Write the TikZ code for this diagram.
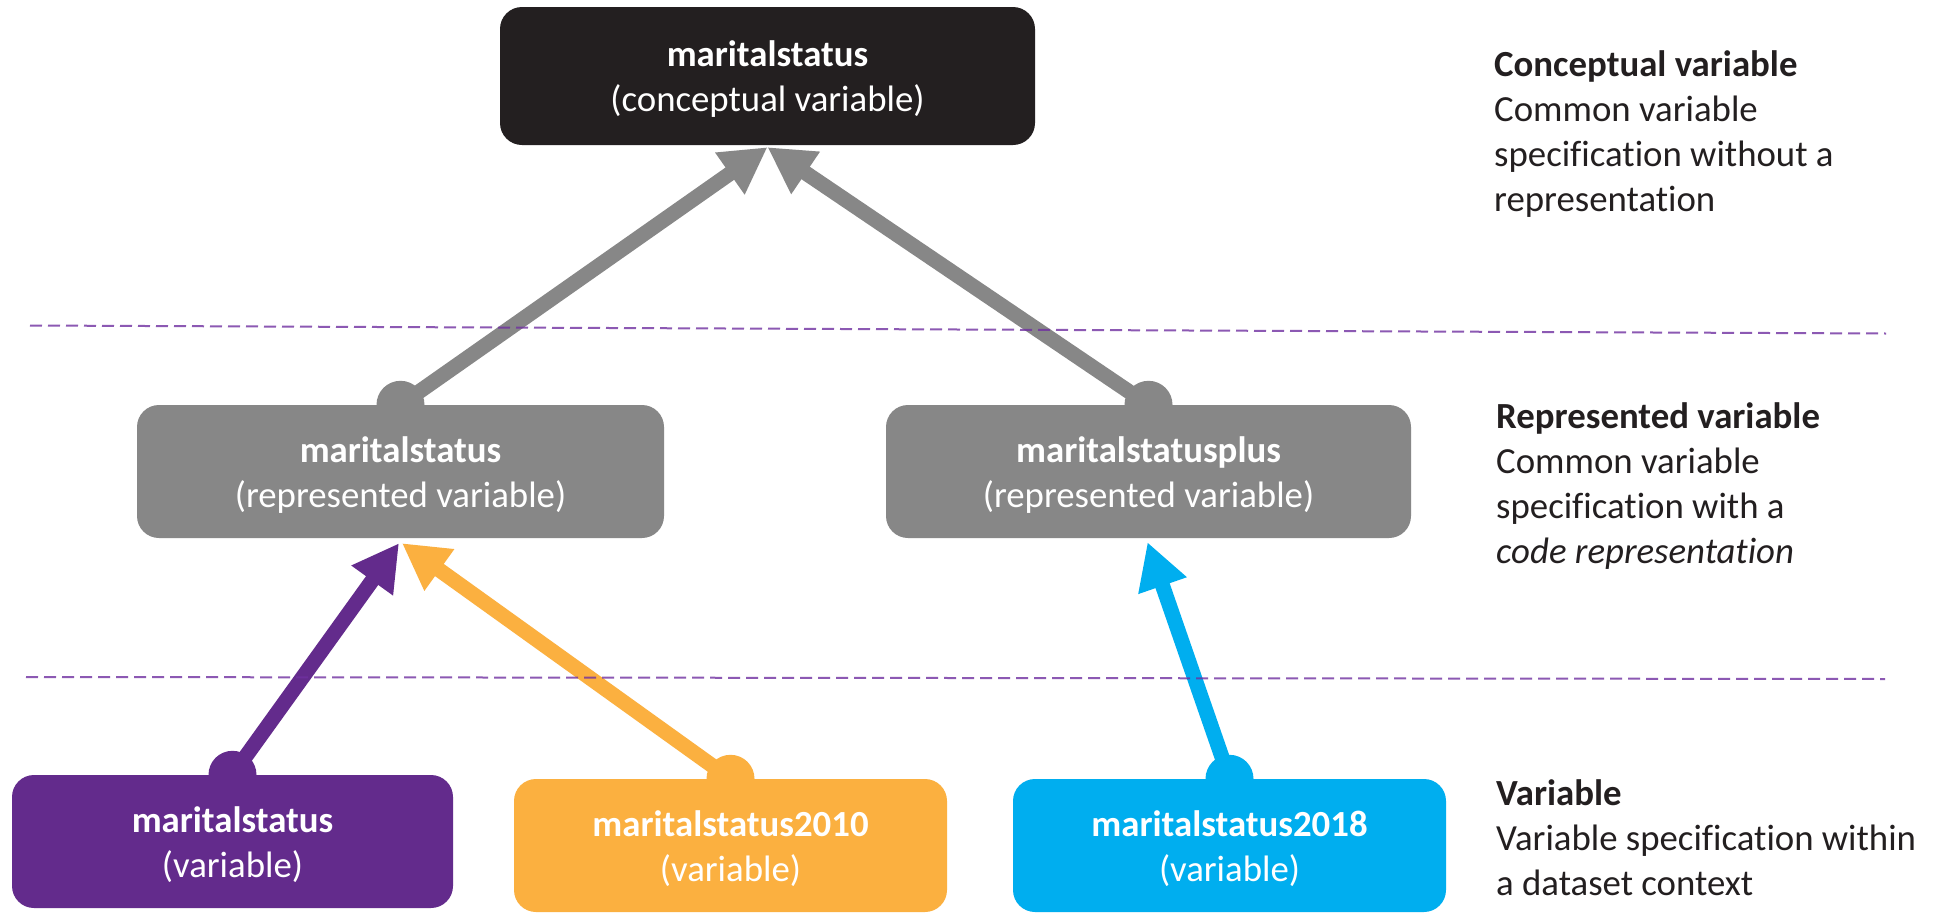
\documentclass[tikz,border=0pt]{standalone}
\usepackage{fontspec}
\setmainfont{Carlito}[Ligatures=CommonOff]
\usetikzlibrary{arrows.meta}
\definecolor{cblack}{HTML}{231F20}
\definecolor{cgray}{HTML}{878787}
\definecolor{cpurple}{HTML}{632B8C}
\definecolor{corange}{HTML}{FBB040}
\definecolor{cblue}{HTML}{00AEEF}
\definecolor{cdash}{HTML}{7030A0}
\newcommand\dfont{\fontsize{36.8pt}{45pt}\selectfont}
\newcommand\tstrut{\rule{0pt}{32pt}}
\begin{document}
\begin{tikzpicture}[x=1pt,y=-1pt,
  box/.style={rounded corners=22pt, inner sep=0pt, text=white, align=center,
              font=\dfont, minimum height=133pt},
  conn/.style={line width=15pt, -{Triangle[length=46pt,width=48pt]}},
  sep/.style={cdash, line width=2pt, dash pattern=on 12pt off 6pt, opacity=0.8},
  desc/.style={anchor=base west, align=left, inner sep=0pt, font=\dfont, text=cblack}]
\useasboundingbox[fill=white] (0,0) rectangle (1936,913);

% nodes
\node[box, fill=cblack, minimum width=535pt, minimum height=138pt] (cv) at (767.5,76)
  {\tstrut\textbf{maritalstatus}\\(conceptual variable)};
\node[box, fill=cgray, minimum width=527pt] (rv1) at (400.5,471.5)
  {\tstrut\textbf{maritalstatus}\\(represented variable)};
\node[box, fill=cgray, minimum width=525pt] (rv2) at (1148.5,471.5)
  {\tstrut\textbf{maritalstatusplus}\\(represented variable)};
\node[box, fill=cpurple, minimum width=441pt] (v1) at (232.5,841.5)
  {\tstrut\textbf{maritalstatus}\\(variable)};
\node[box, fill=corange, minimum width=433pt] (v2) at (730.5,845.5)
  {\tstrut\textbf{maritalstatus2010}\\(variable)};
\node[box, fill=cblue, minimum width=433pt] (v3) at (1229.5,845.5)
  {\tstrut\textbf{maritalstatus2018}\\(variable)};

% connectors
\fill[cgray] (rv1.north) circle[radius=24pt];
\draw[conn, cgray] (rv1.north) -- ([yshift=-2pt]cv.south);
\fill[cgray] (rv2.north) circle[radius=24pt];
\draw[conn, cgray] (rv2.north) -- ([yshift=-2pt]cv.south);
\fill[cpurple] (v1.north) circle[radius=24pt];
\draw[conn, cpurple] (v1.north) -- ([xshift=-1.5pt,yshift=-5pt]rv1.south);
\fill[corange] (v2.north) circle[radius=24pt];
\draw[conn, corange] (v2.north) -- ([xshift=1.5pt,yshift=-5pt]rv1.south);
\fill[cblue] (v3.north) circle[radius=24pt];
\draw[conn, cblue] (v3.north) -- ([xshift=-1pt,yshift=-4pt]rv2.south);

% separators
\draw[sep] (30,325.5) -- (1886,333.5);
\draw[sep] (26,677) -- (1885,679);

% descriptions (anchored at the baseline of their last line)
\node[desc] (d1) at (1494,211.7)
  {\textbf{Conceptual variable}\\Common variable\\specification without a\\representation};
\node[desc] (d2) at (1496,563.3)
  {\textbf{Represented variable}\\Common variable\\specification with a\\\textit{code representation}};
\node[desc] (d3) at (1496,895)
  {\textbf{Variable}\\Variable specification within\\a dataset context};
\end{tikzpicture}
\end{document}
